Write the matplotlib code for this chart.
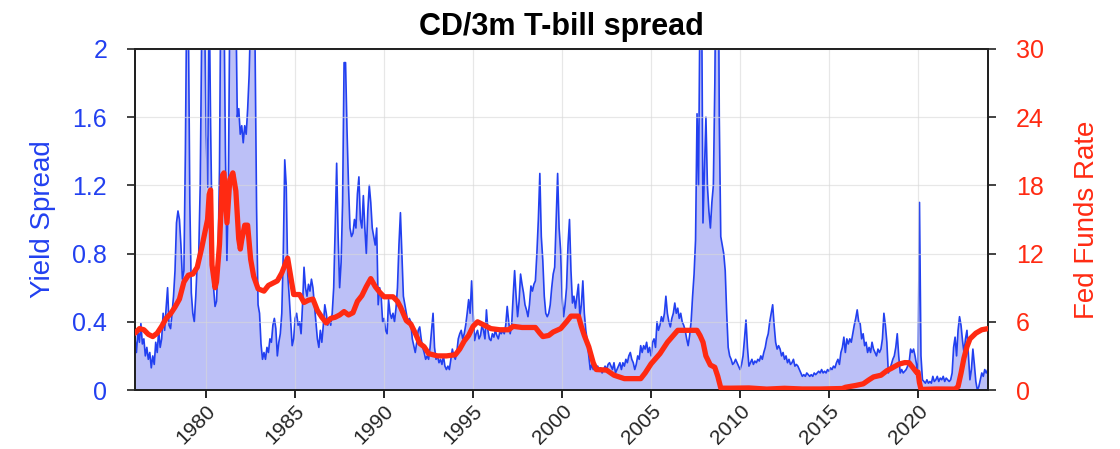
import numpy as np
import matplotlib
matplotlib.use('Agg')
import matplotlib.pyplot as plt

plt.rcParams['font.family'] = ['Liberation Sans', 'DejaVu Sans']

# monthly CD/3m T-bill spread, Jan 1976 .. Dec 2023 (one row per year)
spread = [
    0.30, 0.22, 0.35, 0.28, 0.39, 0.27, 0.30, 0.20, 0.25, 0.18, 0.22, 0.13,  # 1976
    0.20, 0.15, 0.28, 0.22, 0.35, 0.25, 0.30, 0.45, 0.35, 0.48, 0.60, 0.38,  # 1977
    0.36, 0.45, 0.55, 0.70, 0.98, 1.05, 1.00, 0.85, 0.65, 0.70, 1.40, 2.40,  # 1978
    2.20, 1.10, 0.57, 0.45, 0.40, 0.55, 0.75, 0.80, 1.20, 2.10, 2.60, 2.20,  # 1979
    1.50, 1.19, 2.40, 1.56, 0.94, 0.60, 0.49, 0.52, 0.75, 1.30, 2.50, 3.00,  # 1980
    2.30, 1.40, 0.76, 1.20, 2.30, 2.80, 2.50, 2.10, 2.30, 1.60, 1.65, 1.50,  # 1981
    1.55, 1.45, 1.55, 1.50, 1.65, 1.85, 2.20, 2.60, 2.30, 2.00, 1.07, 0.50,  # 1982
    0.45, 0.27, 0.18, 0.22, 0.18, 0.25, 0.22, 0.30, 0.28, 0.38, 0.42, 0.36,  # 1983
    0.20, 0.28, 0.33, 0.45, 0.80, 1.35, 1.20, 0.68, 0.55, 0.40, 0.26, 0.30,  # 1984
    0.42, 0.45, 0.38, 0.40, 0.33, 0.50, 0.72, 0.60, 0.55, 0.62, 0.58, 0.65,  # 1985
    0.60, 0.50, 0.40, 0.30, 0.25, 0.35, 0.28, 0.38, 0.50, 0.45, 0.38, 0.42,  # 1986
    0.38, 0.45, 0.60, 0.95, 1.33, 0.90, 0.60, 0.75, 1.10, 1.92, 1.92, 1.52,  # 1987
    1.20, 0.95, 0.90, 0.92, 1.00, 0.95, 1.15, 1.25, 1.00, 0.95, 1.14, 0.95,  # 1988
    0.80, 1.05, 1.20, 1.10, 0.95, 0.90, 0.85, 0.95, 0.50, 0.60, 0.55, 0.40,  # 1989
    0.42, 0.35, 0.33, 0.53, 0.45, 0.42, 0.45, 0.40, 0.48, 0.60, 0.85, 1.04,  # 1990
    0.80, 0.55, 0.50, 0.45, 0.40, 0.42, 0.40, 0.30, 0.26, 0.22, 0.28, 0.35,  # 1991
    0.37, 0.30, 0.25, 0.22, 0.18, 0.20, 0.18, 0.25, 0.35, 0.45, 0.25, 0.18,  # 1992
    0.20, 0.16, 0.18, 0.15, 0.20, 0.14, 0.12, 0.14, 0.12, 0.18, 0.24, 0.20,  # 1993
    0.18, 0.22, 0.30, 0.33, 0.35, 0.30, 0.33, 0.38, 0.45, 0.53, 0.45, 0.64,  # 1994
    0.45, 0.29, 0.33, 0.35, 0.30, 0.32, 0.38, 0.35, 0.30, 0.47, 0.35, 0.30,  # 1995
    0.29, 0.33, 0.31, 0.35, 0.32, 0.30, 0.34, 0.33, 0.35, 0.33, 0.38, 0.49,  # 1996
    0.40, 0.33, 0.38, 0.55, 0.70, 0.55, 0.43, 0.52, 0.68, 0.62, 0.57, 0.50,  # 1997
    0.47, 0.43, 0.50, 0.61, 0.58, 0.62, 0.64, 0.80, 1.00, 1.27, 0.90, 0.76,  # 1998
    0.55, 0.45, 0.43, 0.45, 0.50, 0.60, 0.68, 0.72, 1.00, 1.27, 0.95, 0.82,  # 1999
    0.55, 0.43, 0.50, 0.60, 0.85, 1.00, 0.70, 0.51, 0.55, 0.48, 0.55, 0.62,  # 2000
    0.43, 0.50, 0.64, 0.45, 0.35, 0.29, 0.20, 0.12, 0.15, 0.12, 0.14, 0.12,  # 2001
    0.14, 0.12, 0.13, 0.10, 0.12, 0.14, 0.12, 0.15, 0.16, 0.14, 0.12, 0.16,  # 2002
    0.10, 0.12, 0.14, 0.16, 0.12, 0.16, 0.14, 0.18, 0.16, 0.20, 0.22, 0.18,  # 2003
    0.16, 0.12, 0.15, 0.20, 0.18, 0.26, 0.22, 0.26, 0.24, 0.28, 0.22, 0.25,  # 2004
    0.20, 0.28, 0.30, 0.25, 0.40, 0.35, 0.38, 0.43, 0.40, 0.45, 0.55, 0.45,  # 2005
    0.40, 0.37, 0.42, 0.45, 0.51, 0.45, 0.48, 0.42, 0.45, 0.40, 0.38, 0.35,  # 2006
    0.30, 0.26, 0.32, 0.40, 0.55, 0.68, 0.88, 1.62, 1.20, 2.30, 2.50, 0.98,  # 2007
    1.30, 1.60, 1.20, 1.05, 0.95, 1.10, 1.20, 1.80, 2.80, 3.20, 1.60, 0.90,  # 2008
    0.85, 0.80, 0.70, 0.45, 0.25, 0.20, 0.18, 0.15, 0.16, 0.18, 0.16, 0.14,  # 2009
    0.12, 0.15, 0.20, 0.30, 0.41, 0.25, 0.14, 0.16, 0.18, 0.15, 0.17, 0.16,  # 2010
    0.18, 0.17, 0.20, 0.18, 0.22, 0.25, 0.30, 0.33, 0.40, 0.45, 0.50, 0.38,  # 2011
    0.28, 0.24, 0.26, 0.24, 0.20, 0.22, 0.18, 0.20, 0.16, 0.18, 0.15, 0.16,  # 2012
    0.18, 0.14, 0.15, 0.14, 0.12, 0.10, 0.08, 0.09, 0.08, 0.10, 0.09, 0.08,  # 2013
    0.09, 0.08, 0.10, 0.09, 0.10, 0.11, 0.10, 0.12, 0.10, 0.11, 0.10, 0.12,  # 2014
    0.11, 0.13, 0.12, 0.14, 0.13, 0.16, 0.18, 0.15, 0.22, 0.25, 0.31, 0.22,  # 2015
    0.30, 0.27, 0.30, 0.28, 0.33, 0.38, 0.42, 0.47, 0.40, 0.39, 0.30, 0.33,  # 2016
    0.26, 0.28, 0.22, 0.25, 0.22, 0.28, 0.24, 0.22, 0.20, 0.24, 0.22, 0.24,  # 2017
    0.30, 0.45, 0.38, 0.28, 0.10, 0.12, 0.15, 0.18, 0.20, 0.25, 0.33, 0.20,  # 2018
    0.10, 0.12, 0.10, 0.11, 0.12, 0.14, 0.16, 0.24, 0.22, 0.24, 0.20, 0.15,  # 2019
    0.06, 1.10, 0.20, 0.06, 0.05, 0.04, 0.06, 0.04, 0.05, 0.04, 0.08, 0.05,  # 2020
    0.06, 0.08, 0.05, 0.07, 0.06, 0.08, 0.05, 0.07, 0.06, 0.05, 0.06, 0.10,  # 2021
    0.25, 0.31, 0.20, 0.35, 0.43, 0.38, 0.29, 0.22, 0.30, 0.35, 0.20, 0.06,  # 2022
    0.12, 0.24, 0.15, 0.05, 0.00, 0.02, 0.06, 0.10, 0.08, 0.12, 0.10, 0.12,  # 2023
]
spread_start = 1976.0

# fed funds rate (decimal year, percent)
ff_years = [1976.00, 1976.25, 1976.50, 1976.75, 1977.00, 1977.25, 1977.50, 1977.75,
            1978.00, 1978.25, 1978.50, 1978.75, 1979.00, 1979.25, 1979.50, 1979.75,
            1979.92, 1980.08, 1980.17, 1980.25, 1980.33, 1980.50, 1980.58, 1980.75,
            1980.92, 1981.00, 1981.17, 1981.33, 1981.50, 1981.67, 1981.83, 1981.92,
            1982.00, 1982.17, 1982.33, 1982.50, 1982.67, 1982.92, 1983.25, 1983.50,
            1983.75, 1984.00, 1984.25, 1984.58, 1984.75, 1984.92, 1985.25, 1985.50,
            1985.75, 1986.00, 1986.25, 1986.50, 1986.75, 1987.00, 1987.25, 1987.50,
            1987.75, 1988.00, 1988.25, 1988.50, 1988.75, 1989.00, 1989.25, 1989.50,
            1989.75, 1990.00, 1990.50, 1990.75, 1990.92, 1991.25, 1991.50, 1991.75,
            1992.00, 1992.25, 1992.50, 1993.00, 1993.50, 1994.00, 1994.25, 1994.50,
            1994.75, 1995.00, 1995.25, 1995.50, 1995.75, 1996.00, 1996.50, 1997.00,
            1997.25, 1997.75, 1998.50, 1998.75, 1998.92, 1999.25, 1999.50, 1999.92,
            2000.25, 2000.50, 2000.92, 2001.08, 2001.25, 2001.50, 2001.75, 2001.92,
            2002.50, 2002.92, 2003.50, 2004.42, 2004.67, 2005.00, 2005.50, 2005.92,
            2006.50, 2007.58, 2007.75, 2007.92, 2008.08, 2008.33, 2008.58, 2008.75,
            2008.92, 2009.50, 2010.50, 2011.50, 2012.50, 2013.50, 2014.50, 2015.75,
            2015.92, 2016.50, 2016.92, 2017.25, 2017.50, 2017.92, 2018.25, 2018.50,
            2018.92, 2019.25, 2019.50, 2019.75, 2019.92, 2020.00, 2020.08, 2020.17,
            2021.00, 2022.08, 2022.25, 2022.42, 2022.58, 2022.75, 2022.92, 2023.25,
            2023.58, 2023.93]
ff_rate = [5.0, 5.4, 5.3, 4.9, 4.7, 5.0, 5.6, 6.3,
           6.7, 7.3, 8.0, 9.5, 10.1, 10.2, 10.8, 12.5,
           13.8, 15.0, 17.2, 17.6, 11.0, 9.0, 9.5, 12.8,
           18.9, 19.1, 14.7, 18.5, 19.1, 17.5, 13.3, 12.4,
           13.2, 14.5, 14.5, 11.5, 10.0, 8.9, 8.7, 9.2,
           9.4, 9.6, 10.3, 11.6, 10.0, 8.4, 8.4, 7.7,
           7.9, 8.0, 7.0, 6.4, 5.9, 6.3, 6.4, 6.6,
           6.9, 6.6, 6.8, 7.8, 8.3, 9.1, 9.8, 9.1,
           8.6, 8.2, 8.2, 7.8, 7.3, 6.1, 5.8, 5.0,
           4.1, 3.8, 3.2, 3.0, 3.0, 3.1, 3.6, 4.3,
           4.8, 5.6, 6.0, 5.8, 5.6, 5.4, 5.3, 5.3,
           5.6, 5.5, 5.5, 5.0, 4.7, 4.8, 5.1, 5.4,
           6.0, 6.5, 6.5, 5.6, 4.8, 3.8, 2.4, 1.8,
           1.75, 1.3, 1.0, 1.0, 1.5, 2.3, 3.2, 4.2,
           5.25, 5.25, 4.8, 4.2, 3.0, 2.2, 2.0, 1.2,
           0.16, 0.16, 0.18, 0.08, 0.15, 0.09, 0.09, 0.13,
           0.24, 0.4, 0.54, 0.9, 1.15, 1.3, 1.7, 1.9,
           2.27, 2.41, 2.4, 1.9, 1.55, 1.58, 0.65, 0.05,
           0.09, 0.08, 0.3, 1.5, 2.8, 3.8, 4.5, 5.0,
           5.3, 5.4]

left_ticks = [0, 0.4, 0.8, 1.2, 1.6, 2]
left_labels = ['0', '0.4', '0.8', '1.2', '1.6', '2']
right_ticks = [0, 6, 12, 18, 24, 30]
year_ticks = [1980, 1985, 1990, 1995, 2000, 2005, 2010, 2015, 2020]

blue = '#2240f0'
fill_col = '#bcc0f7'
red = '#ff2a12'

spread_years = spread_start + np.arange(len(spread)) / 12.0

fig = plt.figure(figsize=(11.2, 4.49), dpi=100)
ax = fig.add_axes([0.1205, 0.1314, 0.7616, 0.7595])

ax.fill_between(spread_years, 0, spread, color=fill_col, lw=0, zorder=1)
ax.plot(spread_years, spread, color=blue, lw=1.2, zorder=2)
ax.set_xlim(1976.0, 2023.93)
ax.set_ylim(0, 2)
ax.set_yticks(left_ticks)
ax.set_yticklabels(left_labels)
ax.set_xticks(year_ticks)
ax.set_xticklabels([str(y) for y in year_ticks], rotation=45, ha='right',
                   rotation_mode='anchor', fontsize=15, color='#222222')
ax.tick_params(axis='y', colors=blue, labelsize=18, length=6, width=1.2, pad=14)
ax.tick_params(axis='x', length=6, width=1.2, pad=2)
ax.set_axisbelow(False)
ax.grid(True, color='#d8d8d8', lw=0.9, alpha=0.6)
ax.set_ylabel('Yield Spread', color=blue, fontsize=20, labelpad=12)
ax.set_title('CD/3m T-bill spread', fontsize=22, fontweight='bold', pad=10)

ax2 = ax.twinx()
ax2.plot(ff_years, ff_rate, color=red, lw=3.8, solid_joinstyle='round',
         solid_capstyle='round', zorder=3)
ax2.set_ylim(0, 30)
ax2.set_yticks(right_ticks)
ax2.tick_params(axis='y', colors=red, labelsize=18, length=6, width=1.2, pad=14)
ax2.set_ylabel('Fed Funds Rate', color=red, fontsize=20, labelpad=22)

for a in (ax, ax2):
    for s in a.spines.values():
        s.set_color('#222222')
        s.set_linewidth(1.4)
ax.tick_params(axis='y', color='#222222')
ax2.tick_params(axis='y', color='#222222')

fig.savefig('out.png', dpi=100)
